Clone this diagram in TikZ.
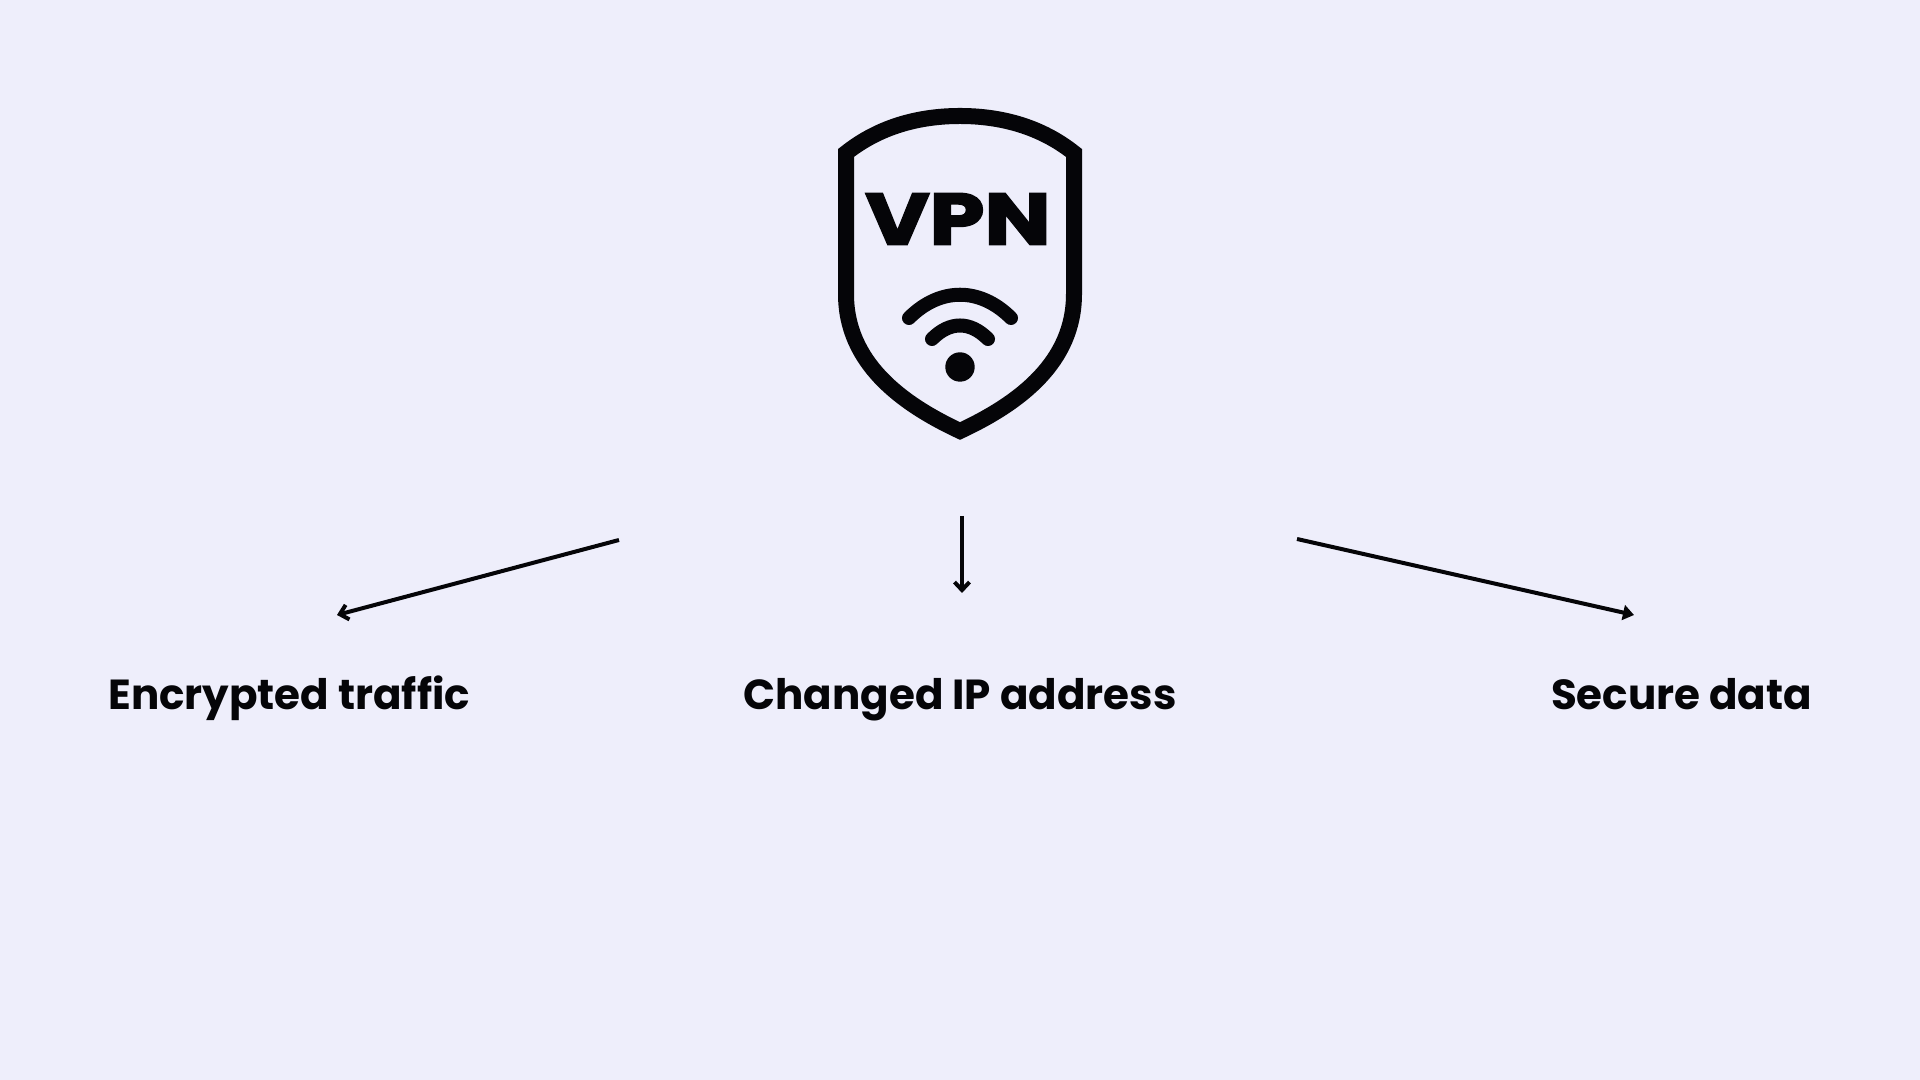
\documentclass[tikz,border=0pt]{standalone}
\usepackage{fontspec}
\setmainfont{Poppins}
\newfontfamily\logofont{Poppins}[BoldFeatures={FakeBold=3,FakeStretch=1.22}]
\usepackage{xcolor}
\usetikzlibrary{arrows.meta,positioning}
\definecolor{bgcolor}{HTML}{EEEEFB}
\definecolor{inkcolor}{HTML}{050508}

\begin{document}
\begin{tikzpicture}[
    x=0.01cm, y=-0.01cm,
    caption/.style={inner sep=0pt, font=\fontsize{11.95pt}{14pt}\selectfont\bfseries, text=inkcolor},
    logo/.style={inner sep=0pt, text=inkcolor, font=\fontsize{20.5pt}{24pt}\logofont\bfseries},
    shield/.style={draw=inkcolor, line width=1.6mm, miter limit=10},
    signal/.style={draw=inkcolor, line width=1.4mm, line cap=round},
    arrow/.style={draw=inkcolor, line width=0.4mm, -{Straight Barb[length=0.8mm, width=1.5mm, line width=0.4mm]}},
    solidarrow/.style={draw=inkcolor, line width=0.4mm, -{Triangle[length=1.1mm, width=1.5mm]}}
]
    \fill[bgcolor] (0,0) rectangle (1920,1080);
    \useasboundingbox (0,0) rectangle (1920,1080);

    % shield
    \draw[shield] (960,116) .. controls (920,116) and (880,126) .. (846,153) -- (846,294)
        .. controls (846,362) and (900,403) .. (960,431)
        .. controls (1020,403) and (1074,362) .. (1074,294) -- (1074,153)
        .. controls (1040,126) and (1000,116) .. (960,116) -- cycle;
    \node[logo] (vpn) at (958,219) {VPN};
    \draw[signal] (909,318) .. controls (940,287) and (980,287) .. (1011,318);
    \draw[signal] (932,339) .. controls (950,321) and (970,321) .. (988,339);
    \fill[inkcolor] (960,367) circle (0.147cm);

    % labels
    \node[caption] (changed) at (960,700) {Changed IP address};
    \node[caption, base left=2.72cm of changed] (encrypted) {Encrypted traffic};
    \node[caption, base right=3.73cm of changed] (secure) {Secure data};

    % arrows
    \coordinate (a1) at (619,540);
    \coordinate (b1) at (337,615);
    \coordinate (a2) at (962,516);
    \coordinate (b2) at (962,593);
    \coordinate (a3) at (1297,539);
    \coordinate (b3) at (1634,615);
    \draw[arrow] (a1) -- (b1);
    \draw[arrow] (a2) -- (b2);
    \draw[solidarrow] (a3) -- (b3);
\end{tikzpicture}
\end{document}
